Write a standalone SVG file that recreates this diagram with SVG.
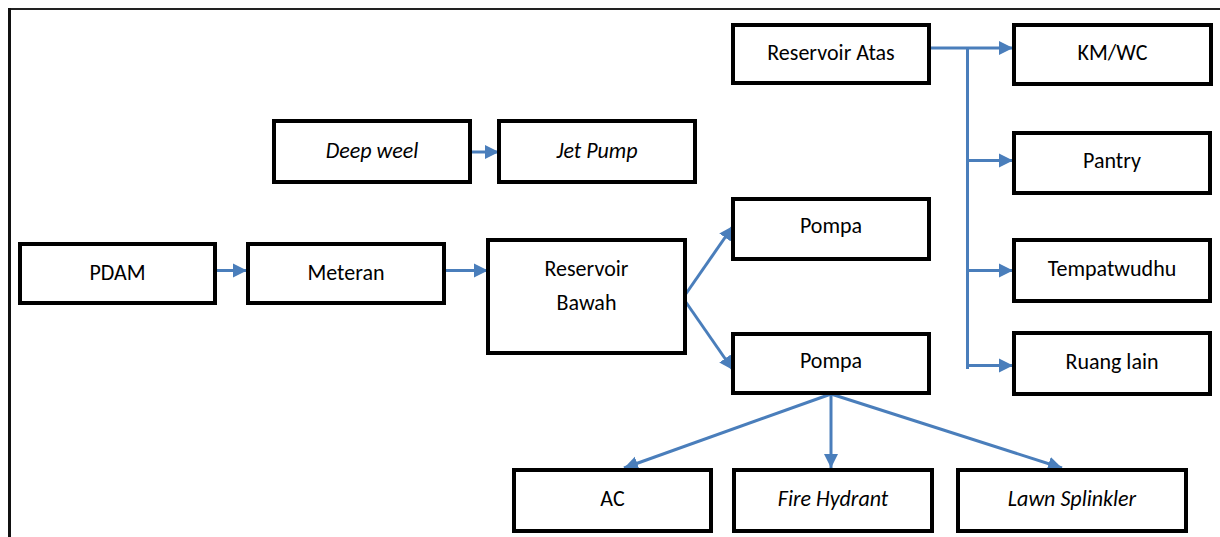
<svg xmlns="http://www.w3.org/2000/svg" width="1220" height="537" viewBox="0 0 1220 537">
  <style>
    .box { fill: #ffffff; stroke: #000000; stroke-width: 4; }
    .lbl { font-family: Carlito, Calibri, Lato, "Liberation Sans", sans-serif; font-size: 22px; fill: #000000; text-anchor: middle; }
    .it { font-style: italic; }
    .wire { fill: none; stroke: #4A7EBB; stroke-width: 3; }
    .arr { fill: none; stroke: #4A7EBB; stroke-width: 3; marker-end: url(#head); }
  </style>
  <defs>
    <marker id="head" viewBox="0 0 10 10" refX="10" refY="5" markerUnits="userSpaceOnUse" markerWidth="14" markerHeight="15" orient="auto">
      <path d="M0,0 L10,5 L0,10 Z" fill="#4A7EBB"/>
    </marker>
  </defs>

  <rect width="1220" height="537" fill="#ffffff"/>

  <!-- page frame -->
  <g id="frame">
    <line x1="8" y1="9" x2="1220" y2="9" stroke="#222222" stroke-width="2"/>
    <line x1="9.5" y1="8" x2="9.5" y2="537" stroke="#111111" stroke-width="3"/>
  </g>

  <!-- connectors -->
  <g id="connectors">
    <line class="arr" x1="203" y1="270.5" x2="247" y2="270.5"/>
    <line class="arr" x1="444" y1="270.5" x2="488" y2="270.5"/>
    <line class="arr" x1="470" y1="152" x2="499" y2="152"/>
    <polyline class="arr" points="683,298 733,226"/>
    <polyline class="arr" points="683,298 733,370"/>
    <line class="arr" x1="831" y1="394" x2="624" y2="468"/>
    <line class="arr" x1="831" y1="394" x2="831" y2="468"/>
    <line class="arr" x1="831" y1="394" x2="1062" y2="468"/>
    <line class="arr" x1="931" y1="48" x2="1013" y2="48"/>
    <line class="wire" x1="967.5" y1="48" x2="967.5" y2="369"/>
    <line class="arr" x1="967" y1="160.5" x2="1013" y2="160.5"/>
    <line class="arr" x1="967" y1="270.5" x2="1013" y2="270.5"/>
    <line class="arr" x1="967" y1="365.5" x2="1013" y2="365.5"/>
  </g>

  <g id="pdam">
    <rect class="box" x="20" y="244" width="195" height="59"/>
    <text class="lbl" x="117.5" y="280">PDAM</text>
  </g>
  <g id="meteran">
    <rect class="box" x="248" y="244" width="196" height="59"/>
    <text class="lbl" x="346" y="280">Meteran</text>
  </g>
  <g id="reservoir-bawah">
    <rect class="box" x="488" y="240" width="197" height="113"/>
    <text class="lbl" x="586.5" y="276">Reservoir</text>
    <text class="lbl" x="586.5" y="310">Bawah</text>
  </g>
  <g id="deep-weel">
    <rect class="box" x="274" y="121" width="196" height="61"/>
    <text class="lbl it" x="372" y="158">Deep weel</text>
  </g>
  <g id="jet-pump">
    <rect class="box" x="499" y="121" width="196" height="61"/>
    <text class="lbl it" x="597" y="158">Jet Pump</text>
  </g>
  <g id="pompa-1">
    <rect class="box" x="733" y="199" width="196" height="60"/>
    <text class="lbl" x="831" y="233">Pompa</text>
  </g>
  <g id="pompa-2">
    <rect class="box" x="733" y="334" width="196" height="59"/>
    <text class="lbl" x="831" y="368">Pompa</text>
  </g>
  <g id="reservoir-atas">
    <rect class="box" x="733" y="25" width="196" height="58"/>
    <text class="lbl" x="831" y="60">Reservoir Atas</text>
  </g>
  <g id="km-wc">
    <rect class="box" x="1014" y="25" width="197" height="59"/>
    <text class="lbl" x="1112.5" y="60">KM/WC</text>
  </g>
  <g id="pantry">
    <rect class="box" x="1014" y="133" width="196" height="60"/>
    <text class="lbl" x="1112" y="168">Pantry</text>
  </g>
  <g id="tempatwudhu">
    <rect class="box" x="1014" y="240" width="196" height="61"/>
    <text class="lbl" x="1112" y="276">Tempatwudhu</text>
  </g>
  <g id="ruang-lain">
    <rect class="box" x="1014" y="333" width="196" height="61"/>
    <text class="lbl" x="1112" y="369">Ruang lain</text>
  </g>
  <g id="ac">
    <rect class="box" x="514" y="470" width="197" height="61"/>
    <text class="lbl" x="612.5" y="506">AC</text>
  </g>
  <g id="fire-hydrant">
    <rect class="box" x="734" y="470" width="198" height="61"/>
    <text class="lbl it" x="833" y="506">Fire Hydrant</text>
  </g>
  <g id="lawn-splinkler">
    <rect class="box" x="958" y="470" width="228" height="61"/>
    <text class="lbl it" x="1072" y="506">Lawn Splinkler</text>
  </g>
</svg>
